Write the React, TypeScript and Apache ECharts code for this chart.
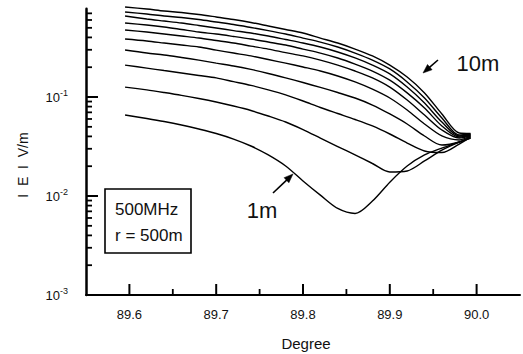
import React, { useEffect, useRef } from 'react';
import * as echarts from 'echarts';

// Incidence angle (degrees)
const degrees = [89.595, 89.62, 89.64, 89.66, 89.68, 89.70, 89.72, 89.74, 89.76, 89.78, 89.80, 89.82, 89.84, 89.86, 89.88, 89.90, 89.92, 89.94, 89.96, 89.98, 89.993];

// |E| (V/m) for antenna heights 1m ... 10m
const field1m = [0.0658, 0.0607, 0.0566, 0.0522, 0.0475, 0.0428, 0.0376, 0.0320, 0.0260, 0.0201, 0.0142, 0.0102, 0.00748, 0.00666, 0.00890, 0.0138, 0.0201, 0.0260, 0.0305, 0.0351, 0.0385];
const field2m = [0.126, 0.118, 0.111, 0.104, 0.0966, 0.0890, 0.0811, 0.0731, 0.0643, 0.0559, 0.0469, 0.0385, 0.0316, 0.0260, 0.0213, 0.0175, 0.0179, 0.0226, 0.0291, 0.0351, 0.0385];
const field3m = [0.210, 0.196, 0.185, 0.175, 0.165, 0.156, 0.143, 0.131, 0.118, 0.105, 0.0911, 0.0783, 0.0681, 0.0593, 0.0510, 0.0423, 0.0343, 0.0285, 0.0275, 0.0335, 0.0394];
const field4m = [0.298, 0.278, 0.266, 0.251, 0.236, 0.220, 0.206, 0.190, 0.173, 0.156, 0.140, 0.125, 0.111, 0.0977, 0.0830, 0.0674, 0.0534, 0.0404, 0.0327, 0.0351, 0.0399];
const field5m = [0.385, 0.368, 0.351, 0.335, 0.320, 0.298, 0.278, 0.260, 0.239, 0.220, 0.201, 0.183, 0.163, 0.142, 0.120, 0.0977, 0.0739, 0.0534, 0.0404, 0.0368, 0.0404];
const field6m = [0.475, 0.453, 0.433, 0.413, 0.394, 0.372, 0.351, 0.327, 0.305, 0.281, 0.260, 0.236, 0.210, 0.183, 0.156, 0.126, 0.0932, 0.0658, 0.0464, 0.0385, 0.0408];
const field7m = [0.559, 0.534, 0.510, 0.481, 0.453, 0.433, 0.409, 0.385, 0.359, 0.335, 0.305, 0.278, 0.248, 0.215, 0.183, 0.148, 0.110, 0.0774, 0.0510, 0.0394, 0.0413];
const field8m = [0.658, 0.614, 0.586, 0.559, 0.528, 0.498, 0.469, 0.443, 0.413, 0.381, 0.351, 0.320, 0.285, 0.248, 0.210, 0.171, 0.126, 0.0870, 0.0559, 0.0404, 0.0418];
const field9m = [0.722, 0.689, 0.658, 0.635, 0.606, 0.572, 0.540, 0.504, 0.469, 0.433, 0.394, 0.359, 0.320, 0.278, 0.236, 0.192, 0.142, 0.0977, 0.0614, 0.0413, 0.0423];
const field10m = [0.811, 0.774, 0.739, 0.714, 0.681, 0.643, 0.606, 0.566, 0.522, 0.481, 0.443, 0.394, 0.351, 0.305, 0.260, 0.210, 0.159, 0.110, 0.0674, 0.0433, 0.0428];

const antennaHeights = ['1m', '2m', '3m', '4m', '5m', '6m', '7m', '8m', '9m', '10m'];
const fieldSeries = [field1m, field2m, field3m, field4m, field5m, field6m, field7m, field8m, field9m, field10m];

const xMajorTicks = [89.6, 89.7, 89.8, 89.9, 90.0];
const xMinorTicks = [89.65, 89.75, 89.85, 89.95];
const yDecades = [-3, -2, -1];
const boxLines = ['500MHz', 'r = 500m'];
const yAxisName = 'I  E  I  V/m';
const xAxisName = 'Degree';
const labelTop = '10m';
const labelBottom = '1m';

const FONT = "'Liberation Sans', Arial, Helvetica, sans-serif";
const X_MIN = 89.55;
const X_MAX = 90.05;
const Y_MIN = 0.001;
const Y_MAX = 0.78;

function arrow(tx: number, ty: number, hx: number, hy: number, len: number, wid: number) {
  const dx = hx - tx;
  const dy = hy - ty;
  const d = Math.sqrt(dx * dx + dy * dy);
  const ux = dx / d;
  const uy = dy / d;
  const nx = -uy;
  const ny = ux;
  const bx = hx - ux * len;
  const by = hy - uy * len;
  return [
    {
      type: 'line',
      shape: { x1: tx, y1: ty, x2: bx + ux * 2, y2: by + uy * 2 },
      style: { stroke: '#000', lineWidth: 1.6 },
      silent: true,
    },
    {
      type: 'polygon',
      shape: {
        points: [
          [hx, hy],
          [bx + nx * wid / 2, by + ny * wid / 2],
          [bx - nx * wid / 2, by - ny * wid / 2],
        ],
      },
      style: { fill: '#000', stroke: '#000', lineWidth: 0.5 },
      silent: true,
    },
  ];
}

export default function App() {
  const ref = useRef<HTMLDivElement>(null);
  useEffect(() => {
    const chart = echarts.init(ref.current as HTMLDivElement, null, { renderer: 'svg' });
    const option: any = {
      animation: false,
      backgroundColor: '#ffffff',
      grid: { left: 86, right: 0, top: 8.7, bottom: 59, containLabel: false },
      xAxis: {
        type: 'value',
        min: X_MIN,
        max: X_MAX,
        interval: 0.05,
        axisLine: { show: true, onZero: false, lineStyle: { color: '#000', width: 2 } },
        axisTick: { show: false },
        splitLine: { show: false },
        axisLabel: {
          margin: 13,
          color: '#111',
          fontSize: 13,
          fontFamily: FONT,
          formatter: (v: number) => {
            const r = Math.round(v * 10) / 10;
            if (Math.abs(v - r) > 1e-6) return '';
            return xMajorTicks.some((t) => Math.abs(t - r) < 1e-6) ? r.toFixed(1) : '';
          },
        },
      },
      yAxis: {
        type: 'log',
        logBase: 10,
        min: Y_MIN,
        max: Y_MAX,
        axisLine: { show: true, onZero: false, lineStyle: { color: '#000', width: 2.5 } },
        axisTick: { show: false },
        splitLine: { show: false },
        minorTick: { show: false },
        axisLabel: {
          margin: 18,
          color: '#111',
          fontFamily: FONT,
          formatter: (v: number) => {
            const lg = Math.log10(v);
            const e = Math.round(lg);
            if (Math.abs(lg - e) > 1e-6) return '';
            if (!yDecades.includes(e)) return '';
            return '{b|10}{s|' + e + '}';
          },
          rich: {
            b: { fontSize: 13, lineHeight: 18, fontFamily: FONT, color: '#111' },
            s: { fontSize: 9, lineHeight: 8, verticalAlign: 'top', fontFamily: FONT, color: '#111' },
          },
        },
      },
      series: fieldSeries.map((d, i) => ({
        type: 'line',
        name: antennaHeights[i],
        data: degrees.map((x, j) => [x, d[j]]),
        showSymbol: false,
        symbol: 'none',
        smooth: 0.3,
        clip: false,
        silent: true,
        lineStyle: { color: '#000', width: 1.4 },
      })),
    };
    chart.setOption(option);

    const g: any[] = [];
    const corner = chart.convertToPixel({ gridIndex: 0 }, [X_MIN, Y_MIN]) as number[];
    const axX = corner[0];
    const axY = corner[1];
    // y ticks (decade + minor 2..9)
    yDecades.forEach((dec) => {
      for (let k = 1; k <= 9; k++) {
        const v = k * Math.pow(10, dec);
        if (v > Y_MAX) continue;
        const p = chart.convertToPixel({ gridIndex: 0 }, [X_MIN, v]) as number[];
        const len = k === 1 ? 12 : 6;
        g.push({
          type: 'line',
          shape: { x1: axX, y1: p[1], x2: axX + len, y2: p[1] },
          style: { stroke: '#000', lineWidth: k === 1 ? 2 : 1.8 },
          silent: true,
        });
      }
    });
    // x ticks
    xMajorTicks.forEach((t) => {
      const p = chart.convertToPixel({ gridIndex: 0 }, [t, Y_MIN]) as number[];
      g.push({
        type: 'line',
        shape: { x1: p[0], y1: axY, x2: p[0], y2: axY - 11 },
        style: { stroke: '#000', lineWidth: 2 },
        silent: true,
      });
    });
    xMinorTicks.forEach((t) => {
      const p = chart.convertToPixel({ gridIndex: 0 }, [t, Y_MIN]) as number[];
      g.push({
        type: 'line',
        shape: { x1: p[0], y1: axY, x2: p[0], y2: axY - 6 },
        style: { stroke: '#000', lineWidth: 1.8 },
        silent: true,
      });
    });
    // axis names
    g.push({
      type: 'text',
      x: 306,
      y: 343,
      style: { text: xAxisName, fontSize: 15, fontFamily: FONT, fill: '#111', align: 'center', verticalAlign: 'middle' },
      silent: true,
    });
    g.push({
      type: 'text',
      x: 23,
      y: 165,
      rotation: Math.PI / 2,
      style: { text: yAxisName, fontSize: 14, fontFamily: FONT, fill: '#111', align: 'center', verticalAlign: 'middle' },
      silent: true,
    });
    // parameter box
    g.push({
      type: 'rect',
      shape: { x: 105, y: 189, width: 86, height: 64 },
      style: { fill: 'none', stroke: '#000', lineWidth: 1.6 },
      silent: true,
    });
    g.push({
      type: 'text',
      x: 115,
      y: 209,
      style: { text: boxLines[0], fontSize: 17, fontFamily: FONT, fill: '#111', align: 'left', verticalAlign: 'middle' },
      silent: true,
    });
    g.push({
      type: 'text',
      x: 115,
      y: 235,
      style: { text: boxLines[1], fontSize: 17, fontFamily: FONT, fill: '#111', align: 'left', verticalAlign: 'middle' },
      silent: true,
    });
    // annotations
    g.push({
      type: 'text',
      x: 478,
      y: 63,
      style: { text: labelTop, fontSize: 22, fontFamily: FONT, fill: '#111', align: 'center', verticalAlign: 'middle' },
      silent: true,
    });
    g.push({
      type: 'text',
      x: 262,
      y: 210,
      style: { text: labelBottom, fontSize: 22, fontFamily: FONT, fill: '#111', align: 'center', verticalAlign: 'middle' },
      silent: true,
    });
    g.push(...arrow(438, 60, 423, 73, 9, 7));
    g.push(...arrow(273, 193, 293, 174, 9, 7));

    chart.setOption({ graphic: g });
    return () => chart.dispose();
  }, []);
  return <div ref={ref} style={{ position: 'fixed', left: 0, top: 0, width: 523, height: 354, background: '#fff' }} />;
}
